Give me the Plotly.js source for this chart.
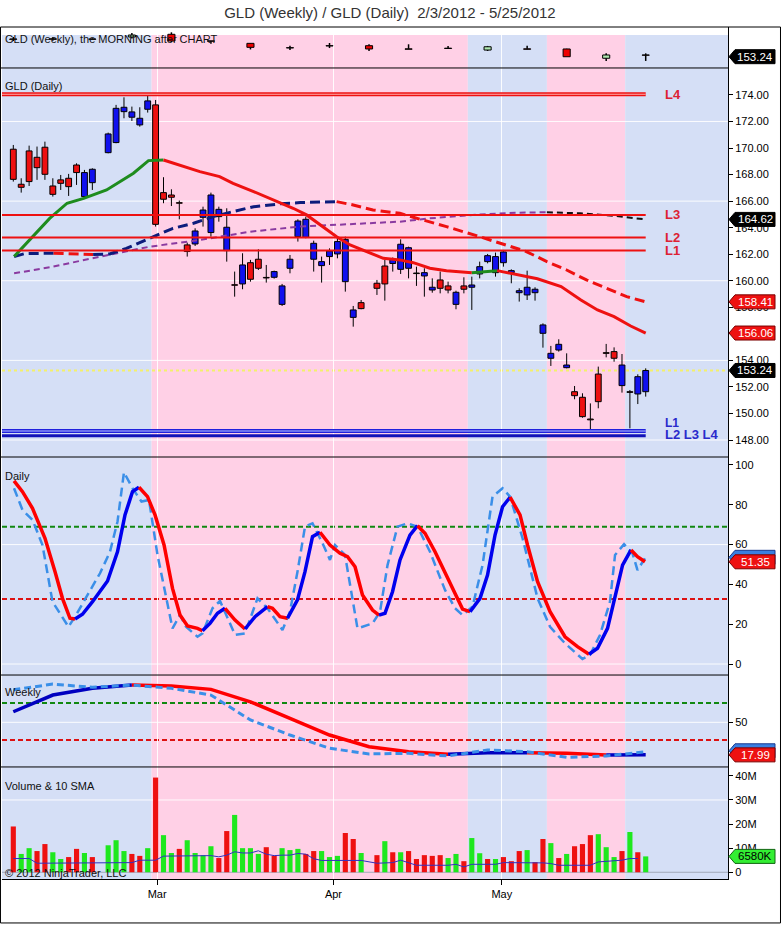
<!DOCTYPE html>
<html><head><meta charset="utf-8">
<script src="https://cdn.plot.ly/plotly-3.0.1.min.js"></script>
<style>html,body{margin:0;padding:0;background:#fff}#chart{width:783px;height:925px}</style>
</head><body><div id="chart"></div>
<script>
// ---------------- DATA ----------------
const dayDates = ['02-03','02-06','02-07','02-08','02-09','02-10','02-13','02-14','02-15','02-16','02-17',
 '02-21','02-22','02-23','02-24','02-27','02-28','02-29',
 '03-01','03-02','03-05','03-06','03-07','03-08','03-09','03-12','03-13','03-14','03-15','03-16','03-19','03-20','03-21','03-22','03-23','03-26','03-27','03-28','03-29','03-30',
 '04-02','04-03','04-04','04-05',
 '04-09','04-10','04-11','04-12','04-13','04-16','04-17','04-18','04-19','04-20','04-23','04-24','04-25','04-26','04-27','04-30',
 '05-01','05-02','05-03','05-04','05-07','05-08','05-09','05-10','05-11','05-14','05-15','05-16','05-17','05-18','05-21','05-22','05-23','05-24','05-25'];
const dayOpen = [169.91,167.27,169.78,169.30,170.06,167.14,167.60,167.72,168.72,166.34,167.39,
 169.65,170.41,172.74,172.32,171.74,172.92,173.25,
 166.64,166.46,165.88,162.70,162.77,164.78,163.63,164.83,162.27,159.70,159.76,161.36,161.62,160.25,160.26,158.22,160.94,163.32,163.27,161.62,161.14,161.82,
 162.02,159.93,157.24,158.35,
 159.81,161.11,161.30,160.86,160.94,160.58,160.36,159.30,160.06,159.61,158.22,159.61,159.51,160.51,161.44,160.61,
 161.36,160.61,159.10,158.93,159.10,156.04,154.16,154.78,153.45,151.64,151.22,149.58,152.97,154.58,154.66,152.10,151.64,151.47,151.64];
const dayHigh = [170.23,167.72,170.18,170.11,170.48,167.72,167.97,168.05,168.85,168.35,168.47,
 171.16,173.25,173.82,173.12,173.07,174.00,173.62,
 167.80,166.89,166.04,162.87,163.95,165.58,166.64,165.58,165.46,160.69,162.07,161.57,162.37,161.19,160.76,159.76,161.94,164.63,164.83,163.02,161.82,162.44,
 163.20,163.32,158.10,158.55,
 160.06,161.57,161.75,163.12,162.57,161.06,160.94,160.18,160.69,159.93,159.25,160.26,160.31,161.44,162.02,162.12,
 162.32,160.86,159.43,160.76,159.51,156.79,155.09,155.59,154.53,152.07,151.52,150.76,153.53,155.24,154.98,154.48,151.77,152.95,153.40];
const dayLow = [167.47,166.64,167.14,167.60,167.60,166.34,166.84,166.39,167.22,166.21,166.84,
 169.60,170.36,172.24,172.04,171.61,172.67,164.08,
 165.84,165.63,164.63,161.82,162.62,164.08,163.32,164.45,161.44,158.80,159.36,159.93,160.81,159.86,160.16,158.10,160.56,162.95,163.20,160.69,159.86,161.19,
 161.69,159.18,156.54,157.85,
 158.93,158.50,160.69,160.51,160.18,159.61,158.80,159.10,159.05,159.05,157.85,159.05,157.80,160.18,161.31,160.31,
 161.06,159.81,158.43,158.55,158.50,154.96,153.58,154.66,153.40,151.07,149.68,148.63,150.39,154.23,153.90,151.57,148.88,150.71,151.27];
const dayClose = [167.64,167.04,167.47,168.52,168.02,166.51,167.34,167.09,168.15,168.15,168.40,
 171.06,172.99,173.07,172.72,172.24,173.55,164.25,
 166.14,166.29,165.84,162.20,163.75,165.33,166.46,165.38,164.03,159.66,161.19,160.11,160.94,160.21,160.69,159.61,161.62,164.50,164.63,162.82,161.44,162.24,
 162.95,163.12,157.80,157.90,
 159.43,159.76,161.60,162.75,162.49,160.54,160.61,159.51,159.43,159.30,159.13,159.36,159.68,161.06,161.89,161.82,
 162.17,160.76,159.25,159.51,159.36,156.67,154.53,155.21,153.65,151.34,149.76,149.52,150.89,154.53,154.16,153.65,151.59,152.77,153.24];
const volumeM = [19.0,7.6,10.0,8.8,11.7,8.3,5.5,6.3,9.7,8.0,6.3,
 11.2,13.3,8.8,7.6,6.8,10.0,39.3,
 15.4,8.0,9.7,13.3,8.0,7.1,10.8,5.9,17.1,23.8,10.0,10.0,7.6,10.4,6.8,10.0,9.2,9.7,7.6,8.8,8.8,6.3,
 6.8,16.3,13.8,8.0,
 7.1,12.9,8.3,8.3,8.8,5.5,7.1,6.8,7.1,5.9,7.6,4.6,14.2,7.9,5.5,5.5,
 6.3,4.6,8.8,9.2,4.2,13.8,12.1,5.9,7.6,10.8,11.7,15.4,15.8,10.4,6.3,8.8,16.7,8.3,6.58];
const volumeUp = [0,1,1,0,0,1,1,0,0,1,0, 1,1,1,0,0,1,0,
 1,1,0,1,1,1,1,0,0,1,1,1,1,0,0,1,1,1,0,0,1,1, 1,0,0,1,
 0,1,0,1,0,0,0,0,0,1,1,0,1,1,0,1,
 0,0,0,1,0,0,1,0,1,0,0,0,1,1,1,0,1,0,1];
const volSma = [5.7,5.7,5.7,3.75,3.75,3.75,3.75,3.75,3.75,3.75,3.75,
 4.0,4.0,4.0,4.0,5.0,5.0,5.0,
 6.7,6.7,6.7,6.7,6.7,6.7,6.9,6.4,7.1,8.5,8.0,8.0,8.9,7.5,6.9,7.1,7.1,7.8,7.5,5.6,4.9,4.9,
 4.9,4.9,4.9,4.9,
 3.75,4.0,4.0,5.0,4.0,2.9,2.9,2.9,2.9,2.9,3.3,2.2,3.3,3.3,3.3,3.3,
 4.0,3.9,3.9,3.9,3.9,3.9,3.6,2.9,2.9,2.9,2.9,2.9,4.3,4.6,4.9,5.0,5.7,5.7,null];

const weekDates = ['02-03','02-10','02-17','02-24','03-02','03-09','03-16','03-23','03-30','04-06','04-13','04-20','04-27','05-04','05-11','05-18','05-25'];
const weekOpen  = [168.3,168.4,168.3,170.0,172.3,166.7,164.6,160.9,162.6,162.6,159.9,160.5,158.9,159.9,159.8,151.9,154.7];
const weekHigh  = [170.0,169.8,168.8,173.4,174.0,166.8,164.8,162.6,164.9,163.8,163.8,162.3,162.4,162.6,160.0,156.1,156.1];
const weekLow   = [166.6,166.8,167.6,168.7,165.7,164.3,159.4,158.9,160.6,158.1,159.5,160.0,158.1,159.4,153.1,149.6,149.6];
const weekClose = [168.1,168.2,168.1,171.7,166.6,166.4,161.2,160.7,162.4,159.8,159.6,160.2,161.7,159.6,153.2,154.7,154.5];
const weekStochD = [60.4,76.8,83.4,86.6,85.7,82.4,70.2,53.9,37.5,26.0,21.1,18.6,20.1,20.1,19.5,17.9,17.99];
const weekStochK = [82.0,87.6,84.4,86.6,83.4,76.8,52.3,37.5,24.5,18.9,19.5,16.9,22.8,21.1,15.6,16.9,21.1];

// moving averages (bar position, value)
const maFastPos = [0.1,2.5,4.6,6.8,8.9,11.8,15.2,17.1,19.0,21.5,23.6,26.1,27.8,30.4,32.9,35.4,37.1,39.2,40.9,42.6,44.7,46.8,48.9,50.6,52.7,54.8,58.0,59.5,61.2,63.8,66.3,69.3,71.8,73.9,76.0,78.1,80.0];
const maFastVal = [161.82,163.32,164.70,165.84,166.21,166.84,168.10,169.05,169.10,168.65,168.22,167.85,167.34,166.72,166.09,165.46,164.96,164.08,163.32,162.70,162.20,161.69,161.57,161.36,160.94,160.76,160.61,160.70,160.76,160.44,160.15,159.56,158.55,157.80,157.30,156.59,156.06];
const maMidPos = [0.1,1.5,5.1,10.1,12.2,14.3,17.3,20.2,22.8,25.3,27.8,30.4,33.7,36.3,40.9,43.0,45.5,48.9,50.6,54.8,59.0,62.4,64.9,67.5,70.0,72.5,75.1,77.6,80.0];
const maMidVal = [161.82,162.05,162.07,161.98,162.02,162.44,163.20,163.95,164.33,164.83,165.21,165.58,165.79,165.89,165.96,165.71,165.33,165.08,164.78,164.08,163.32,162.70,162.20,161.44,160.81,160.06,159.43,158.80,158.41];
const maSlowPos = [0.1,4.6,11.0,17.3,23.6,30.0,36.3,42.6,48.9,52.7,59.0,64.1,67.5,71.7,75.9,78.9,80.0];
const maSlowVal = [160.56,161.01,161.82,162.57,163.07,163.70,164.08,164.28,164.45,164.70,165.00,165.13,165.16,165.08,164.90,164.70,164.62];

// daily stochastics (bar position, value)
const stDPos = [0.09,1.16,2.43,4.01,5.28,6.22,7.17,7.81,8.75,10.02,11.92,13.18,14.13,15.08,15.9,16.98,17.93,19.07,20.14,21.09,22.04,23.3,23.93,24.88,25.83,26.78,28.05,29.31,30.58,32.16,32.79,33.74,34.69,35.95,36.9,37.85,38.8,40.06,41.33,42.28,43.23,44.17,45.44,46.26,47.02,47.97,48.92,50.18,51.13,52.08,53.35,54.61,55.88,56.83,57.78,59.04,59.99,60.94,61.89,62.84,64.1,65.05,66.32,67.9,69.79,71.37,72.83,73.9,75.17,76.12,77.07,78.14,78.96,79.91];
const stDVal = [92,86.6,78.2,63.2,46.4,33,23,22.6,25,31.3,41.7,56.4,74.9,86.6,88.8,84.1,74.9,59.8,38,24.6,19.1,17.9,16.7,20.4,25.5,28,22.1,17.6,23.8,28.8,28,23.8,23,32.2,46.4,64,66.2,59.8,55.6,53.9,48.9,34.7,27.1,24.6,25.5,36.3,52.3,64.8,69.5,65.7,56.4,45.6,34.7,27.6,26.3,33,44.7,64.8,79,83.8,74.9,59.8,41.4,26.3,13.7,8.7,4.9,7.9,17.9,34.7,49.7,57.3,53.9,51.35];
const stKPos = [0.09,1.16,2.43,3.69,4.96,5.91,6.98,7.81,9.39,10.97,12.23,13.18,14.0,15.08,16.22,17.17,18.24,20.14,21.09,21.85,23.3,23.93,25.2,26.15,28.05,29.31,30.89,32.16,34.05,35.0,35.95,36.9,37.85,39.11,40.06,40.7,41.96,43.54,45.44,46.39,47.34,48.6,49.87,51.13,52.71,54.61,55.88,56.83,58.09,59.36,60.62,61.89,62.84,64.42,66.32,67.9,69.79,72.0,72.95,74.22,75.48,76.12,77.26,78.33,78.96,79.91];
const stKVal = [88.3,77.4,72.4,59.8,31.3,25.5,18.7,23.8,34.7,45.6,56.4,71.5,96.3,88.3,81.6,82.4,54.8,17.9,24.6,18.7,13.7,15.4,28,31.7,14.6,15.4,33,28,17.1,26.3,46.4,69,70.7,60.7,52.3,59.8,54.8,17.9,20.4,26.3,49.7,69,70.7,69,56.4,37.2,28,24.6,28.8,49.7,84.1,88.3,84.1,63.2,33,18.7,10.4,2.5,4.5,14.6,31.3,54.8,60.2,55.6,47.2,53.1];
const stochLevels = [69, 32.7];

const redLevelNames = ['L4','L3','L2','L1'];
const redLevelVals  = [174.05,164.96,163.25,162.27];
const blueLevelNames = ['L1','L2 L3 L4'];
const blueLevelVals  = [148.68,148.33];

const monthTickPos = [18.2,40.5,61.8];
const monthTickText = ['Mar','Apr','May'];
const priceTicks = [148,150,152,154,156,158,160,162,164,166,168,170,172,174];
const priceGrid = [148,154,160,166,172];

// ---------------- helpers ----------------
const FONT = 'Liberation Sans, Arial, sans-serif';
const DAY = 86400000, T0 = Date.UTC(2012,1,3);
function slotOf(md){ const t = Date.parse('2012-'+md+'T00:00:00Z'); let n=0;
  for(let d=T0+DAY; d<=t; d+=DAY){ const w=new Date(d).getUTCDay(); if(w!==0&&w!==6) n++; } return n; }
const daySlot = dayDates.map(slotOf);
const weekSlot = weekDates.map(slotOf);
const lastSlot = daySlot[daySlot.length-1];
const xRange = [-1.43, 90.41];

function segTraces(xs, ys, upC, downC, width, dash, ya){
  const out=[]; let cur=null, curC=null;
  for(let i=1;i<xs.length;i++){
    const c = ys[i]>=ys[i-1]?upC:downC;
    if(c!==curC){ cur={type:'scatter',mode:'lines',x:[xs[i-1]],y:[ys[i-1]],xaxis:'x',yaxis:ya,
      line:{color:c,width:width,dash:dash,shape:'linear'},hoverinfo:'skip'}; out.push(cur); curC=c; }
    cur.x.push(xs[i]); cur.y.push(ys[i]);
  }
  return out;
}
// candle = body bar + wick segments above and below the body
function candleTraces(xs,o,h,l,c,ya,bodyW,upFill,downFill,minBody,wickW){
  const wx=[],wy=[];
  xs.forEach((s,i)=>{ const top=Math.max(o[i],c[i]), bot=Math.min(o[i],c[i]);
    wx.push(s,s,null,s,s,null); wy.push(h[i],top,null,bot,l[i],null); });
  return [
    {type:'bar',x:xs,base:xs.map((_,i)=>Math.min(o[i],c[i])),y:xs.map((_,i)=>Math.max(Math.abs(c[i]-o[i]),minBody)),width:bodyW,xaxis:'x',yaxis:ya,
      marker:{color:xs.map((_,i)=>c[i]>o[i]?upFill:downFill),line:{color:'#000',width:1}},hoverinfo:'skip'},
    {type:'scatter',mode:'lines',x:wx,y:wy,xaxis:'x',yaxis:ya,line:{color:'#000',width:wickW},hoverinfo:'skip'}
  ];
}

const traces = [];
// weekly strip
traces.push(...candleTraces(weekSlot,weekOpen,weekHigh,weekLow,weekClose,'y',0.9,'#b0e8b0','#ee0000',0.05,1.5));
// daily candles
traces.push(...candleTraces(daySlot,dayOpen,dayHigh,dayLow,dayClose,'y2',0.74,'#1010ee','#ee1010',0.03,1));
// moving averages
traces.push(...segTraces(maSlowPos,maSlowVal,'#8a3aa0','#111111',2,'6px,4px','y2'));
traces.push(...segTraces(maMidPos,maMidVal,'#0c1c7c','#ee1111',3,'10px,5px','y2'));
traces.push(...segTraces(maFastPos,maFastVal,'#1e8c1e','#ee1111',3,'solid','y2'));
// level lines
redLevelVals.forEach((v,i)=>{
  traces.push({type:'scatter',mode:'lines',x:[xRange[0],lastSlot],y:[v,v],xaxis:'x',yaxis:'y2',line:{color:'#ee1111',width:i===0?4:2},hoverinfo:'skip'});
  if(i===0) traces.push({type:'scatter',mode:'lines',x:[xRange[0],lastSlot],y:[v,v],xaxis:'x',yaxis:'y2',line:{color:'#ffb0b0',width:1.2},hoverinfo:'skip'});
});
blueLevelVals.forEach((v,i)=>{
  traces.push({type:'scatter',mode:'lines',x:[xRange[0],lastSlot],y:[v,v],xaxis:'x',yaxis:'y2',line:{color:i===0?'#2020dd':'#1212b8',width:i===0?4:3},hoverinfo:'skip'});
  if(i===0) traces.push({type:'scatter',mode:'lines',x:[xRange[0],lastSlot],y:[v,v],xaxis:'x',yaxis:'y2',line:{color:'#b8c4ff',width:1.2},hoverinfo:'skip'});
});

// daily stochastics
traces.push({type:'scatter',mode:'lines',x:stKPos,y:stKVal,xaxis:'x',yaxis:'y3',line:{color:'#3a8fe8',width:2.5,dash:'9px,5px'},hoverinfo:'skip'});
traces.push(...segTraces(stDPos,stDVal,'#0000ee','#ff0000',3.5,'solid','y3'));
// weekly stochastics
traces.push(...segTraces(weekSlot,weekStochD,'#0000c0','#ff0000',3.5,'solid','y4'));
traces.push({type:'scatter',mode:'lines',x:weekSlot,y:weekStochK,xaxis:'x',yaxis:'y4',line:{color:'#3a8fe8',width:3,dash:'7px,4px'},hoverinfo:'skip'});
// volume
traces.push({type:'bar',x:daySlot,y:volumeM,width:0.65,xaxis:'x',yaxis:'y5',
  marker:{color:volumeUp.map(u=>u?'#1ee81e':'#ee1111'),line:{width:0}},hoverinfo:'skip'});
traces.push({type:'scatter',mode:'lines',x:daySlot,y:volSma,xaxis:'x',yaxis:'y5',line:{color:'#3030c0',width:1},connectgaps:false,hoverinfo:'skip'});

// ---------------- layout ----------------
const D = {strip:[0.9519,1], day:[0.4953,0.9519], st:[0.2394,0.4953], wk:[0.1315,0.2394], vol:[0,0.1315]};
const yCommon = {side:'right',anchor:'x',showline:true,linecolor:'#000',linewidth:1,ticks:'outside',ticklen:4,tickcolor:'#000',
  tickfont:{family:FONT,size:11,color:'#000'},showgrid:false,zeroline:false,fixedrange:true};

const shapes = [];
const bandEdges = [xRange[0],17.5,57.5,67.5,77.4,xRange[1]];
const bandColors = ['#d5dff6','#ffd0e6','#d5dff6','#ffd0e6','#d5dff6'];
bandColors.forEach((c,i)=>shapes.push({type:'rect',xref:'x',yref:'paper',x0:bandEdges[i],x1:bandEdges[i+1],y0:0,y1:0.99061,fillcolor:c,line:{width:0},layer:'below'}));
const gridLine = (ya,v,col)=>shapes.push({type:'line',xref:'paper',yref:ya,x0:0,x1:1,y0:v,y1:v,line:{color:col||'rgba(255,255,255,0.9)',width:1},layer:'below'});
priceGrid.forEach(v=>gridLine('y2',v));
[0,60].forEach(v=>gridLine('y3',v));
gridLine('y4',50);
gridLine('y5',30);
gridLine('y5',0,'#a0a8b8');
shapes.push({type:'line',xref:'paper',yref:'y2',x0:0,x1:1,y0:dayClose[dayClose.length-1],y1:dayClose[dayClose.length-1],line:{color:'#f4f06a',width:2,dash:'dot'},layer:'below'});
['y3','y4'].forEach(ya=>{
  shapes.push({type:'line',xref:'paper',yref:ya,x0:0,x1:1,y0:stochLevels[0],y1:stochLevels[0],line:{color:'#118811',width:2,dash:'5px,3px'},layer:'below'});
  shapes.push({type:'line',xref:'paper',yref:ya,x0:0,x1:1,y0:stochLevels[1],y1:stochLevels[1],line:{color:'#dd1111',width:2,dash:'5px,3px'},layer:'below'});
});
// panel separators and frame
[0.9519,0.4953,0.2394,0.1315].forEach(y=>shapes.push({type:'line',xref:'paper',yref:'paper',x0:-0.0021,x1:1,y0:y,y1:y,line:{color:'#000',width:1},layer:'above'}));
shapes.push({type:'rect',xref:'paper',yref:'paper',x0:-0.0021,x1:1.0723,y0:-0.0516,y1:1.0,line:{color:'#000',width:1},layer:'above'});

// flags on the value axis
const annotations = [];
function flag(ya,v,text,fill,border,txtColor){
  shapes.push({type:'path',xref:'paper',yref:ya,xsizemode:'pixel',ysizemode:'pixel',xanchor:1,yanchor:v,
    path:'M1,0 L7,7 L47,7 L47,-7 L7,-7 Z',fillcolor:fill,line:{color:border,width:1},layer:'above'});
  if(text) annotations.push({xref:'paper',yref:ya,x:1,xshift:27,y:v,text:text,showarrow:false,xanchor:'center',yanchor:'middle',
    font:{family:FONT,size:11.5,color:txtColor||'#fff'}});
}
flag('y',dayClose[dayClose.length-1],'153.24','#000','#000');
flag('y2',maSlowVal[maSlowVal.length-1],'164.62','#000','#000');
flag('y2',maMidVal[maMidVal.length-1],'158.41','#ee1111','#7a0000');
flag('y2',maFastVal[maFastVal.length-1],'156.06','#ee1111','#7a0000');
flag('y2',dayClose[dayClose.length-1],'153.24','#000','#000');
flag('y3',stKVal[stKVal.length-1]+0.5,null,'#3a7fe0','#1a3a90');
flag('y3',stDVal[stDVal.length-1],'51.35','#ee1111','#7a0000');
flag('y4',22,null,'#3a7fe0','#1a3a90');
flag('y4',weekStochD[weekStochD.length-1],'17.99','#ee1111','#7a0000');
flag('y5',volumeM[volumeM.length-1],'6580K','#33ee33','#116611','#000');

// panel captions
const cap = (y,t,size)=>annotations.push({xref:'paper',yref:'paper',x:0.0014,y:y,text:t,showarrow:false,xanchor:'left',yanchor:'middle',font:{family:FONT,size:size||11,color:'#111'}});
cap(0.98592,'GLD (Weekly), the MORNING after CHART');
cap(0.93075,'GLD (Daily)');
cap(0.4730,'Daily');
cap(0.21948,'Weekly');
cap(0.10915,'Volume &amp; 10 SMA');
cap(0.00704,'© 2012 NinjaTrader, LLC',11);
// level labels
redLevelNames.forEach((n,i)=>annotations.push({xref:'paper',yref:'y2',x:0.9098,y:redLevelVals[i],text:'<b>'+n+'</b>',showarrow:false,xanchor:'left',yanchor:'middle',font:{family:FONT,size:13,color:'#dd2233'}}));
blueLevelNames.forEach((n,i)=>annotations.push({xref:'paper',yref:'y2',x:0.9098,y:blueLevelVals[i],yshift:i===0?8:1,text:'<b>'+n+'</b>',showarrow:false,xanchor:'left',yanchor:'middle',font:{family:FONT,size:i===0?12:13,color:'#2a2acc'}}));

const layout = {
  width:783,height:925,autosize:false,margin:{l:2,r:55,t:27,b:46,pad:0},
  paper_bgcolor:'#fff',plot_bgcolor:'rgba(0,0,0,0)',showlegend:false,hovermode:false,barmode:'overlay',
  title:{text:'GLD (Weekly) / GLD (Daily) \u00a02/3/2012 - 5/25/2012',font:{family:FONT,size:15,color:'#333'},
    xref:'container',x:0.498,xanchor:'center',yref:'container',y:0.986,yanchor:'middle'},
  xaxis:{domain:[0,1],range:xRange,anchor:'y5',showline:true,linecolor:'#000',linewidth:1,ticks:'outside',ticklen:5,tickcolor:'#000',
    tickvals:monthTickPos,ticktext:monthTickText,tickfont:{family:FONT,size:11,color:'#000'},
    showgrid:true,gridcolor:'rgba(255,255,255,0.9)',gridwidth:1,zeroline:false,fixedrange:true},
  yaxis:Object.assign({},yCommon,{domain:D.strip,range:[143.62,178.52],showticklabels:false,ticks:''}),
  yaxis2:Object.assign({},yCommon,{domain:D.day,range:[146.72,176.03],tickvals:priceTicks,tickformat:'.2f'}),
  yaxis3:Object.assign({},yCommon,{domain:D.st,range:[-5.53,104],tickvals:[0,20,40,60,80,100]}),
  yaxis4:Object.assign({},yCommon,{domain:D.wk,range:[6.1,96.5],tickvals:[50]}),
  yaxis5:Object.assign({},yCommon,{domain:D.vol,range:[-2.8,43.7],tickvals:[0,10,20,30,40],ticktext:['0','10M','20M','30M','40M']}),
  shapes:shapes,annotations:annotations
};
Plotly.newPlot('chart',traces,layout,{displayModeBar:false,staticPlot:true});
</script></body></html>
